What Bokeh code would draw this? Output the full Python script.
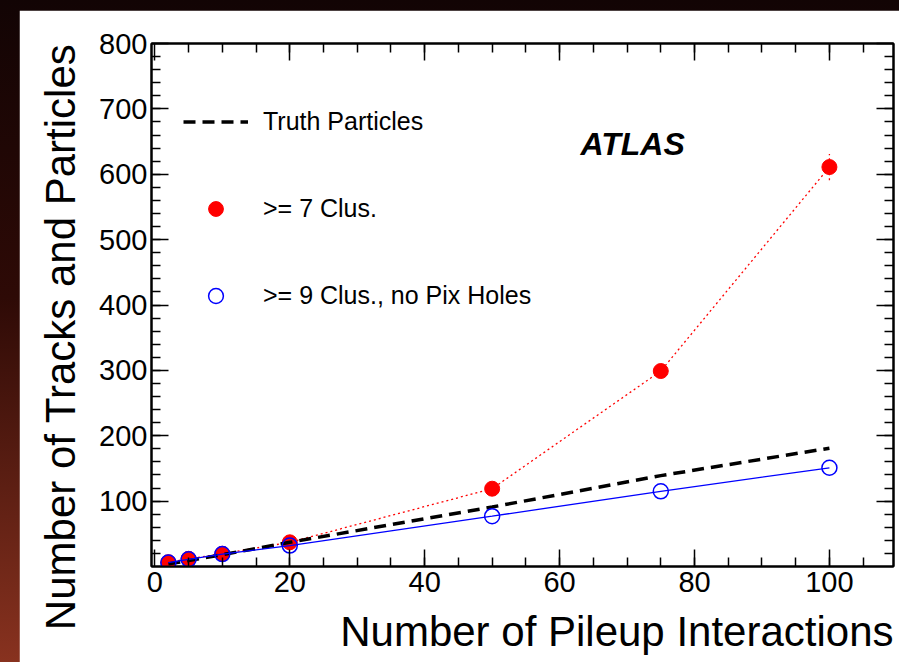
from bokeh.plotting import figure
from bokeh.models import (Range1d, LinearAxis, FixedTicker, Legend, LegendItem,
                          Label, Title, CustomJSTickFormatter)
from bokeh.embed import file_html
from bokeh.resources import INLINE

# ---- data ----
pileup = [2, 5, 10, 20, 50, 75, 100]
truth = [4, 9, 18, 37, 91, 139, 181]
clus7 = [6.6, 11.8, 19.5, 37, 119, 299, 611]
clus7_err = [0, 0, 0, 0, 0, 0, 20]
clus9 = [6, 11, 19, 32, 77, 115, 151]

x_major = [0, 20, 40, 60, 80, 100]
x_minor = list(range(5, 110, 5))
y_major = [100, 200, 300, 400, 500, 600, 700, 800]
y_minor = list(range(20, 800, 20))

FONT = "Liberation Sans"

p = figure(output_backend="svg", toolbar_location=None,
           frame_width=742, frame_height=523,
           min_border_left=132, min_border_top=33, min_border_right=6, min_border_bottom=96,
           x_range=Range1d(-0.5, 109.5), y_range=Range1d(0, 800),
           background_fill_color="white", border_fill_color="white",
           x_axis_type=None, y_axis_type=None)
p.margin = (10, 0, 0, 19)
p.xgrid.visible = False
p.ygrid.visible = False
p.outline_line_color = "black"
p.outline_line_width = 2

xt = FixedTicker(ticks=x_major, minor_ticks=x_minor)
yt = FixedTicker(ticks=y_major, minor_ticks=y_minor)


def style(ax, labels=True):
    ax.major_tick_in = 17
    ax.major_tick_out = 0
    ax.minor_tick_in = 9
    ax.minor_tick_out = 0
    ax.axis_line_width = 2
    ax.major_tick_line_width = 1.5
    ax.minor_tick_line_width = 1.5
    ax.major_label_text_font = FONT
    ax.major_label_text_color = "black"
    ax.major_label_text_font_size = "29px"
    if not labels:
        ax.formatter = CustomJSTickFormatter(code="return ''")
        ax.major_label_standoff = 0


xb = LinearAxis(ticker=xt)
style(xb)
xb.major_label_standoff = 5
p.add_layout(xb, "below")
yl = LinearAxis(ticker=yt)
style(yl)
yl.major_label_standoff = 4
p.add_layout(yl, "left")
xa = LinearAxis(ticker=xt)
style(xa, False)
p.add_layout(xa, "above")
yr = LinearAxis(ticker=yt)
style(yr, False)
p.add_layout(yr, "right")

# axis titles
tx = Title(text="Number of Pileup Interactions", align="right",
           text_font=FONT, text_font_size="42px", text_font_style="normal",
           text_color="black", standoff=22)
p.add_layout(tx, "below")
ty = Title(text="Number of Tracks and Particles", align="right",
           text_font=FONT, text_font_size="42px", text_font_style="normal",
           text_color="black", standoff=25)
p.add_layout(ty, "left")

# ---- series ----
red_line = p.line(pileup, clus7, line_color="red", line_width=1.3, line_dash="2 3")
lo = [v - e for v, e in zip(clus7, clus7_err)]
hi = [v + e for v, e in zip(clus7, clus7_err)]
p.segment(x0=pileup, y0=lo, x1=pileup, y1=hi, line_color="red", line_width=1.3,
          line_dash="2 3")
red_sc = p.scatter(pileup, clus7, size=15, marker="circle", fill_color="red",
                   line_color="red", line_width=1)
truth_r = p.line(pileup, truth, line_color="black", line_width=3.5, line_dash="12 7")
blue_line = p.line(pileup, clus9, line_color="blue", line_width=1.3)
blue_sc = p.scatter(pileup, clus9, size=15, marker="circle", fill_color=None,
                    line_color="blue", line_width=1.5)

legend = Legend(items=[
    LegendItem(label="Truth Particles", renderers=[truth_r]),
    LegendItem(label=">= 7 Clus.", renderers=[red_sc]),
    LegendItem(label=">= 9 Clus., no Pix Holes", renderers=[blue_sc]),
], location=(32, 252), glyph_width=65, glyph_height=37, label_standoff=15,
    spacing=50, padding=0, margin=0, border_line_color=None,
    background_fill_alpha=0, label_text_font=FONT, label_text_font_size="25px",
    label_text_color="black")
p.add_layout(legend)

atlas = Label(x=429, y=423, x_units="screen", y_units="screen", text="ATLAS",
              text_font=FONT, text_font_size="32px", text_font_style="bold italic",
              text_color="black", text_baseline="alphabetic")
p.add_layout(atlas)

html = file_html(p, INLINE)
css = ("<style>html, body { background: linear-gradient(to bottom, #120404 0%, "
       "#2e0a06 45%, #88321f 100%) !important; overflow: hidden !important; }</style>")
html = html.replace("</head>", css + "</head>", 1)
open("out.html", "w").write(html)
